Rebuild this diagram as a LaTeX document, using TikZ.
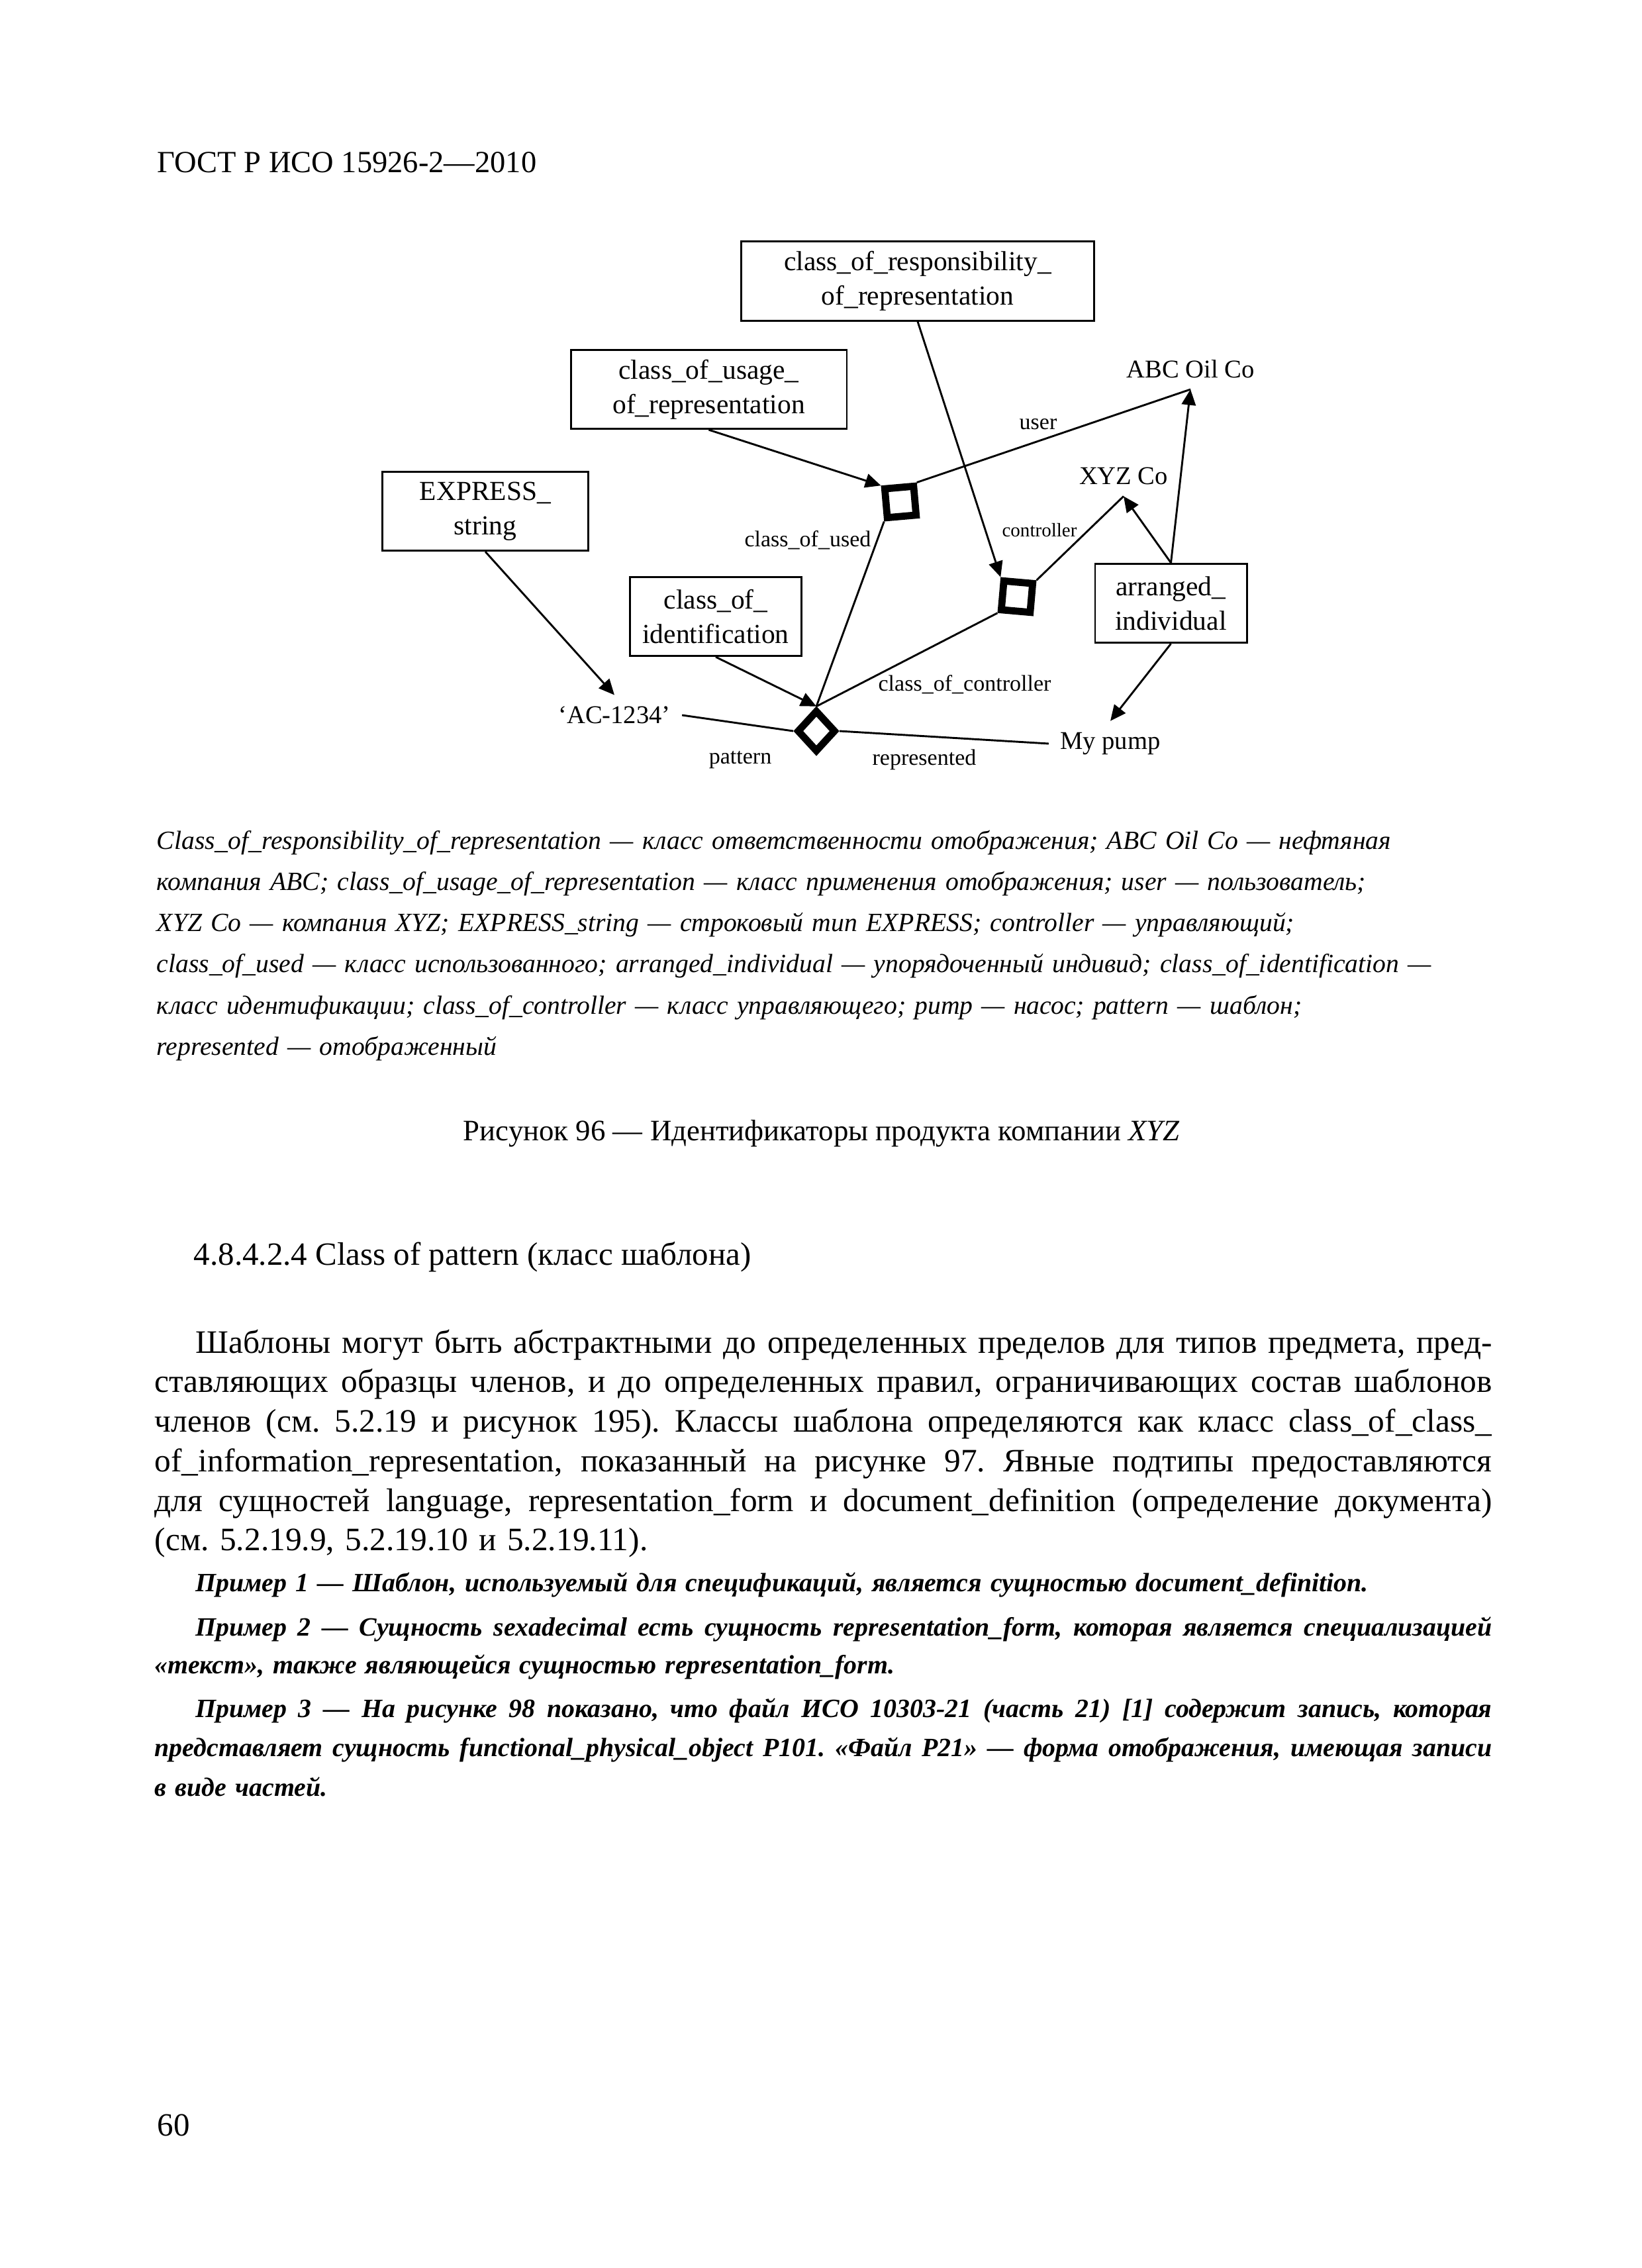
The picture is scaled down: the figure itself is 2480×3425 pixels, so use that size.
\documentclass[tikz,border=0pt]{standalone}
\usepackage{fontspec}
\setmainfont{Liberation Serif}
\usetikzlibrary{arrows.meta,shapes.geometric}

\tikzset{
  entity/.style={rectangle, draw, line width=0.7pt, align=center, inner sep=0pt,
    minimum height=10.1mm, font=\fontsize{10}{12.5}\selectfont},
  thing/.style={inner sep=4pt, font=\fontsize{9.3}{11}\selectfont},
  rolelabel/.style={anchor=base, inner sep=0pt, font=\fontsize{8.2}{10}\selectfont},
  relsquare/.style={rectangle, draw, line width=2.6pt, minimum size=3.7mm, inner sep=0pt},
  reldiamond/.style={diamond, draw, line width=2.6pt, minimum width=5mm,
    minimum height=5.4mm, inner sep=0pt},
  conn/.style={line width=0.7pt},
  pagetext/.style={anchor=base west, inner sep=0pt}
}
\newcommand{\fullline}[1]{\makebox[\linewidth][s]{\spaceskip=0pt\xspaceskip=0pt\relax #1}}
\newcommand{\firstline}[1]{\hspace*{5.2mm}\makebox[\dimexpr\linewidth-5.2mm\relax][s]{\spaceskip=0pt\xspaceskip=0pt\relax #1}}
\frenchspacing

\begin{document}
\begin{tikzpicture}[x=0.0846774mm, y=-0.0846774mm,
  >={Triangle[length=2mm,width=1.8mm]}]
  \fill[white] (0,0) rectangle (2480,3425);
  \useasboundingbox (0,0) rectangle (2480,3425);

  \node[pagetext, font=\fontsize{11.2}{13}\selectfont] (header) at (237,260)
    {ГОСТ Р ИСО 15926-2—2010};

  \node[
  entity,
  minimum width=45.2mm] (resp) at (1386,424.5)
    {class\_of\_responsibility\_\\of\_representation};
  \node[
  entity,
  minimum width=35.3mm] (usage) at (1070.5,588)
    {class\_of\_usage\_\\of\_representation};
  \node[
  entity,
  minimum width=26.4mm] (exprstr) at (733,772) {EXPRESS\_\\string};
  \node[
  entity,
  minimum width=22mm] (ident) at (1081,931) {class\_of\_\\identification};
  \node[
  entity,
  minimum width=19.4mm] (arranged) at (1768.5,911) {arranged\_\\individual};

  \node[thing] (abc) at (1798,557) {ABC Oil Co};
  \node[thing] (xyz) at (1697,719) {XYZ Co};
  \node[thing] (acode) at (928,1080) {‘AC-1234’};
  \node[thing] (pump) at (1677,1123) {My pump};

  \node[relsquare, rotate=5] (usesq) at (1360,758) {};
  \node[relsquare, rotate=-5] (ctrlsq) at (1536,901) {};
  \node[reldiamond] (pat) at (1233,1104) {};

  \node[rolelabel] (userlbl) at (1568,648) {user};
  \node[rolelabel, font=\fontsize{7}{8}\selectfont] (ctrllbl) at (1570,810) {controller};
  \node[rolelabel] (usedlbl) at (1220,825) {class\_of\_used};
  \node[rolelabel] (cctrllbl) at (1457,1043) {class\_of\_controller};
  \node[rolelabel] (patlbl) at (1118,1153) {pattern};
  \node[rolelabel] (reprlbl) at (1396,1155) {represented};

  \draw[->,conn] (resp.south)--(ctrlsq.north west);
  \draw[->,conn] (usage.south)--(usesq.north west);
  \draw[->,conn] (exprstr.south)--(acode.north);
  \draw[->,conn] (ident.south)--(pat.north);
  \draw[->,conn] (arranged.north)--(abc.south);
  \draw[->,conn] (arranged.north)--(xyz.south);
  \draw[->,conn] (arranged.south)--(pump.north);
  \draw[conn] (usesq.north east)--(abc.south);
  \draw[conn] (ctrlsq.north east)--(xyz.south);
  \draw[conn] (acode.east)--(pat.west);
  \draw[conn] (pat.east)--(pump.west);
  \draw[conn] (pat.north)--(usesq.south west);
  \draw[conn] (pat.north)--(ctrlsq.south west);

  \node[pagetext, text width=185mm, align=left,
    font=\itshape\fontsize{9.55}{15}\selectfont] (legend) at (236,1282)
    {Class\_of\_responsibility\_of\_representation — класс ответственности отображения; ABC Oil Co — нефтяная\\
     компания ABC; class\_of\_usage\_of\_representation — класс применения отображения; user — пользователь;\\
     XYZ Co — компания XYZ; EXPRESS\_string — строковый тип EXPRESS; controller — управляющий;\\
     class\_of\_used — класс использованного; arranged\_individual — упорядоченный индивид; class\_of\_identification —\\
     класс идентификации; class\_of\_controller — класс управляющего; pump — насос; pattern — шаблон;\\
     represented — отображенный};

  \node[anchor=base, inner sep=0pt, font=\fontsize{10.8}{13}\selectfont] (figcap) at (1241,1722)
    {Рисунок 96 — Идентификаторы продукта компании \textit{XYZ}};

  \node[pagetext, font=\fontsize{11.8}{14}\selectfont] (sect) at (292,1910)
    {4.8.4.2.4 Class of pattern (класс шаблона)};

  \node[pagetext, text width=171mm, align=left,
    font=\fontsize{11.9}{14.4}\selectfont] (body) at (233,2043)
    {\firstline{Шаблоны могут быть абстрактными до определенных пределов для типов предмета, пред-}\\
     \fullline{ставляющих образцы членов, и до определенных правил, ограничивающих состав шаблонов}\\
     \fullline{членов (см. 5.2.19 и рисунок 195). Классы шаблона определяются как класс class\_of\_class\_}\\
     \fullline{of\_information\_representation, показанный на рисунке 97. Явные подтипы предоставляются}\\
     \fullline{для сущностей language, representation\_form и document\_definition (определение документа)}\\
     (см. 5.2.19.9, 5.2.19.10 и 5.2.19.11).};

  \node[pagetext, text width=171mm, align=left,
    font=\bfseries\itshape\fontsize{9.6}{14}\selectfont] (example1) at (233,2403)
    {\hspace*{5.2mm}Пример 1 — Шаблон, используемый для спецификаций, является сущностью document\_definition.};
  \node[pagetext, text width=171mm, align=left,
    font=\bfseries\itshape\fontsize{9.6}{13.8}\selectfont] (example2) at (233,2470)
    {\firstline{Пример 2 — Сущность sexadecimal есть сущность representation\_form, которая является специализацией}\\
     «текст», также являющейся сущностью representation\_form.};
  \node[pagetext, text width=171mm, align=left,
    font=\bfseries\itshape\fontsize{9.6}{14.4}\selectfont] (example3) at (233,2593)
    {\firstline{Пример 3 — На рисунке 98 показано, что файл ИСО 10303-21 (часть 21) [1] содержит запись, которая}\\
     \fullline{представляет сущность functional\_physical\_object P101. «Файл P21» — форма отображения, имеющая записи}\\
     в виде частей.};

  \node[pagetext, font=\fontsize{11.8}{14}\selectfont] (pageno) at (237,3225) {60};
\end{tikzpicture}
\end{document}
